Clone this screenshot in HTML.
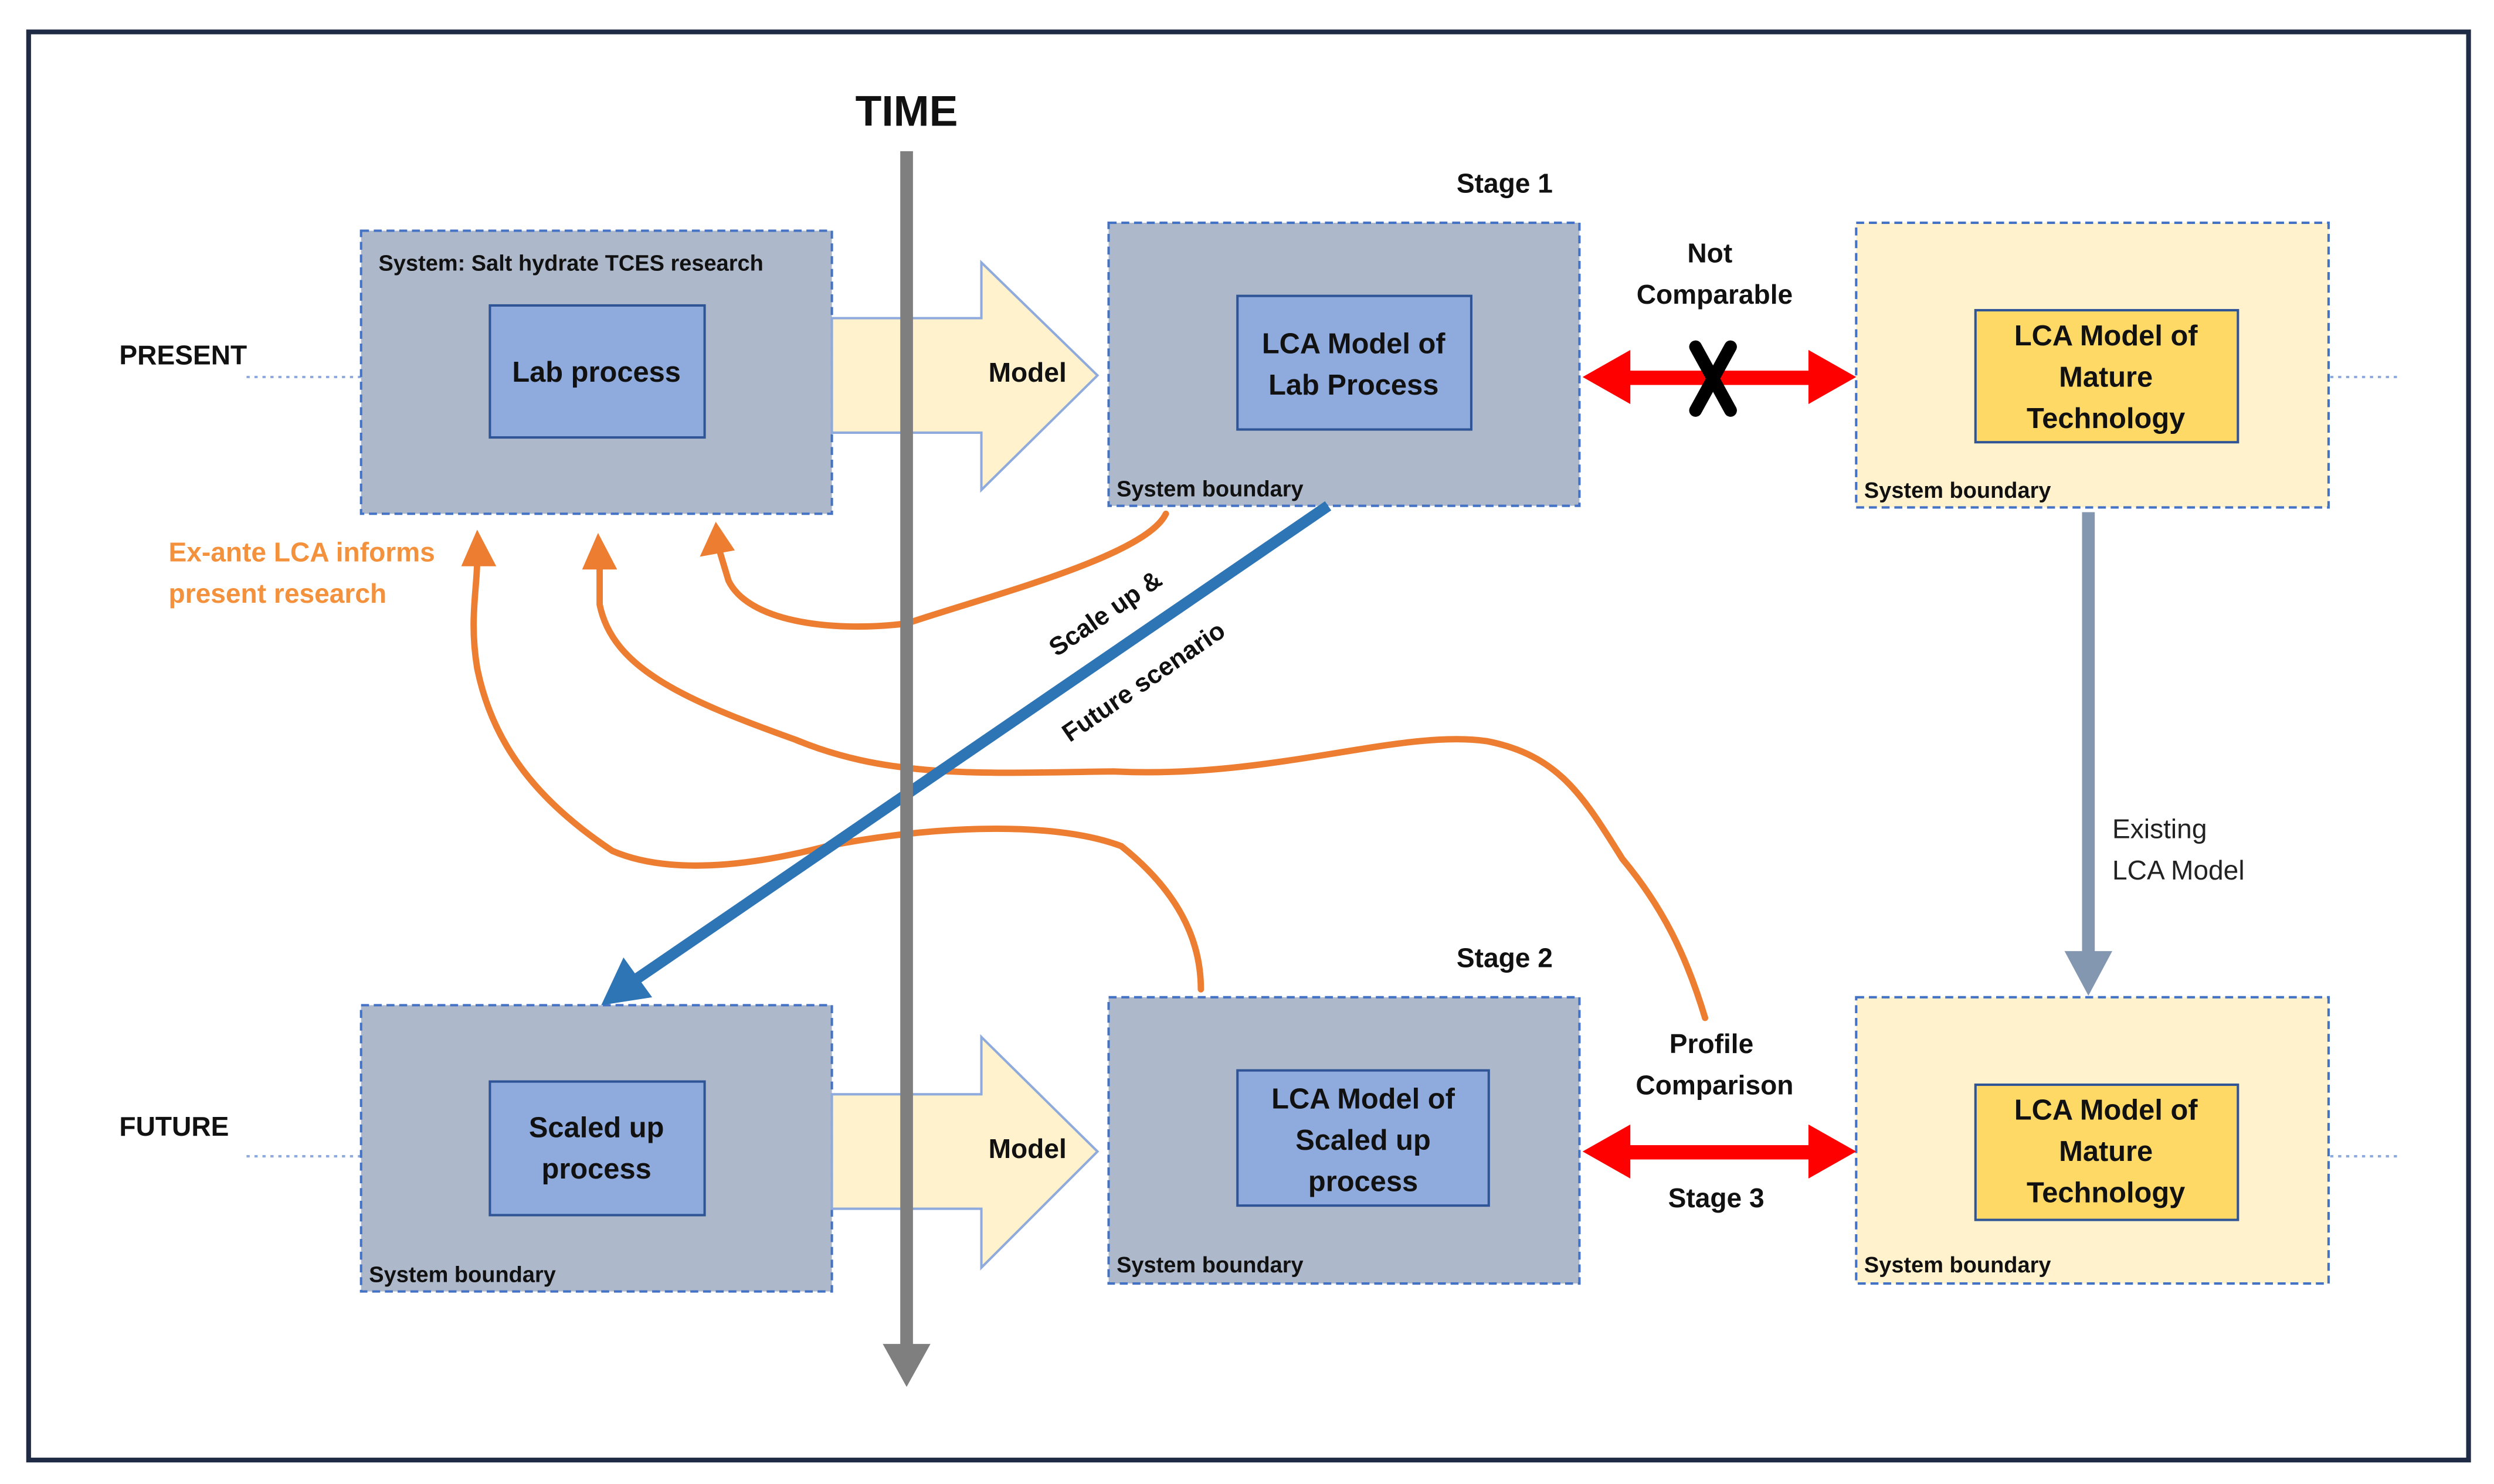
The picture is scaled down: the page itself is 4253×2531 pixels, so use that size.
<!DOCTYPE html>
<html><head><meta charset="utf-8"><style>
html,body{margin:0;padding:0;background:#fff;}
svg{display:block;}
text{font-family:"Liberation Sans",sans-serif;}
</style></head><body>
<svg width="4253" height="2531" viewBox="0 0 1568 933" xmlns="http://www.w3.org/2000/svg">
<rect x="0" y="0" width="1568" height="933" fill="#fff"/>
<rect x="18" y="20" width="1534" height="898" fill="none" stroke="#1f2a44" stroke-width="3"/>

<g stroke="#8faadc" stroke-width="1.5" stroke-dasharray="2,3">
<line x1="155" y1="237" x2="227" y2="237"/>
<line x1="155" y1="727" x2="227" y2="727"/>
<line x1="1465" y1="237" x2="1507" y2="237"/>
<line x1="1465" y1="727" x2="1507" y2="727"/>
</g>
<text x="75" y="229" font-size="17" font-weight="bold" fill="#111">PRESENT</text>
<text x="75" y="714" font-size="17" font-weight="bold" fill="#111">FUTURE</text>

<g stroke="#4472c4" stroke-width="1.5" stroke-dasharray="5,3">
<rect x="227" y="145" width="296" height="178" fill="#adb9ca"/>
<rect x="697" y="140" width="296" height="178" fill="#adb9ca"/>
<rect x="1167" y="140" width="297" height="179" fill="#fff2cc"/>
<rect x="227" y="632" width="296" height="180" fill="#adb9ca"/>
<rect x="697" y="627" width="296" height="180" fill="#adb9ca"/>
<rect x="1167" y="627" width="297" height="180" fill="#fff2cc"/>
</g>
<g stroke="#2f5597" stroke-width="1.5">
<rect x="308" y="192" width="135" height="83" fill="#8faadc"/>
<rect x="778" y="186" width="147" height="84" fill="#8faadc"/>
<rect x="1242" y="195" width="165" height="83" fill="#ffd966"/>
<rect x="308" y="680" width="135" height="84" fill="#8faadc"/>
<rect x="778" y="673" width="158" height="85" fill="#8faadc"/>
<rect x="1242" y="682" width="165" height="85" fill="#ffd966"/>
</g>

<g fill="#fff2cc" stroke="#8faadc" stroke-width="1.5">
<path d="M523 200 H617 V165 L690 236 L617 308 V272 H523 Z"/>
<path d="M523 688 H617 V652 L690 724 L617 797 V760 H523 Z"/>
</g>

<g fill="none" stroke="#ed7d31" stroke-width="4" stroke-linecap="round">
<path d="M733 323 C720 350 620 375 570 392 C520 398 470 390 458 365 L452 345"/>
<path d="M1072 640 C1060 600 1045 570 1020 540 C995 500 980 475 935 466 C880 458 800 490 700 485 C620 486 560 490 500 465 C430 440 385 420 377 380 L377 352"/>
<path d="M755 622 C755 590 740 560 705 532 C660 515 580 520 520 532 C470 545 420 550 385 535 C340 505 310 470 300 420 C295 390 300 370 300 352"/>
</g>
<g fill="#ed7d31">
<polygon points="450,328 440,350 462,346"/>
<polygon points="376,335 366,358 388,358"/>
<polygon points="300,333 290,356 312,356"/>
</g>
<text x="106" y="353" font-size="17" font-weight="bold" fill="#f4913c">Ex-ante LCA informs</text>
<text x="106" y="379" font-size="17" font-weight="bold" fill="#f4913c">present research</text>

<line x1="835" y1="318" x2="398" y2="617" stroke="#2e75b6" stroke-width="7"/>
<polygon points="378,632 392,602 410,627" fill="#2e75b6"/>
<g transform="translate(698,390) rotate(-34.5)">
<text x="0" y="0" font-size="16" font-weight="bold" fill="#111" text-anchor="middle">Scale up &amp;</text>
</g>
<g transform="translate(722,433) rotate(-34.5)">
<text x="0" y="0" font-size="16" font-weight="bold" fill="#111" text-anchor="middle">Future scenario</text>
</g>

<line x1="570" y1="95" x2="570" y2="848" stroke="#7f7f7f" stroke-width="8"/>
<polygon points="555,845 585,845 570,872" fill="#7f7f7f"/>
<text x="570" y="79" font-size="27" font-weight="bold" fill="#111" text-anchor="middle">TIME</text>

<line x1="1313" y1="322" x2="1313" y2="602" stroke="#8497b0" stroke-width="8"/>
<polygon points="1298,598 1328,598 1313,626" fill="#8497b0"/>
<text x="1328" y="527" font-size="17" fill="#222">Existing</text>
<text x="1328" y="553" font-size="17" fill="#222">LCA Model</text>

<g fill="#ff0000">
<rect x="1020" y="233" width="122" height="9"/>
<polygon points="995,237 1025,220 1025,254"/>
<polygon points="1167,237 1137,220 1137,254"/>
<rect x="1020" y="720" width="122" height="9"/>
<polygon points="995,724 1025,707 1025,741"/>
<polygon points="1167,724 1137,707 1137,741"/>
</g>
<g stroke="#000" stroke-width="8" stroke-linecap="round">
<line x1="1066" y1="218" x2="1088" y2="258"/>
<line x1="1088" y1="218" x2="1066" y2="258"/>
</g>

<g font-size="17" font-weight="bold" fill="#111" text-anchor="middle">
<text x="946" y="121">Stage 1</text>
<text x="946" y="608">Stage 2</text>
<text x="1075" y="165">Not</text>
<text x="1078" y="191">Comparable</text>
<text x="1076" y="662">Profile</text>
<text x="1078" y="688">Comparison</text>
<text x="1079" y="759">Stage 3</text>
<text x="646" y="240">Model</text>
<text x="646" y="728">Model</text>
<text x="375" y="240" font-size="18">Lab process</text>
<text x="851" y="222" font-size="18">LCA Model of</text>
<text x="851" y="248" font-size="18">Lab Process</text>
<text x="1324" y="217" font-size="18">LCA Model of</text>
<text x="1324" y="243" font-size="18">Mature</text>
<text x="1324" y="269" font-size="18">Technology</text>
<text x="375" y="715" font-size="18">Scaled up</text>
<text x="375" y="741" font-size="18">process</text>
<text x="857" y="697" font-size="18">LCA Model of</text>
<text x="857" y="723" font-size="18">Scaled up</text>
<text x="857" y="749" font-size="18">process</text>
<text x="1324" y="704" font-size="18">LCA Model of</text>
<text x="1324" y="730" font-size="18">Mature</text>
<text x="1324" y="756" font-size="18">Technology</text>
</g>
<g font-size="14" font-weight="bold" fill="#111">
<text x="238" y="170">System: Salt hydrate TCES research</text>
<text x="702" y="312">System  boundary</text>
<text x="1172" y="313">System boundary</text>
<text x="232" y="806">System boundary</text>
<text x="702" y="800">System  boundary</text>
<text x="1172" y="800">System boundary</text>
</g>
</svg>
</body></html>
